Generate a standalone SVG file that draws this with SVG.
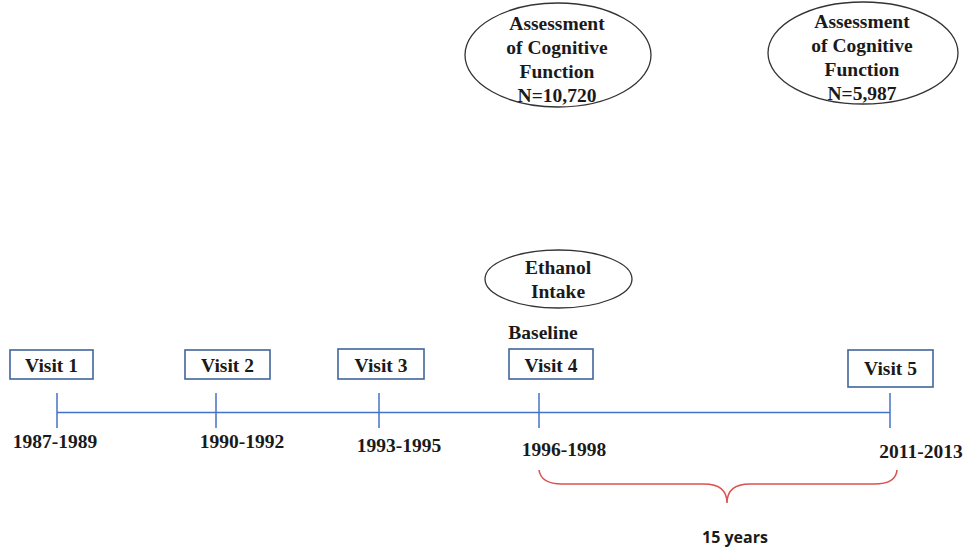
<svg xmlns="http://www.w3.org/2000/svg" width="969" height="552" viewBox="0 0 969 552">
<style>
.bg{fill:#ffffff}
.box{fill:#ffffff;stroke:#41659c;stroke-width:1.6}
.ell{fill:#ffffff;stroke:#333333;stroke-width:1.3}
.t{font-family:"Liberation Serif","Times New Roman",serif;font-weight:bold;font-size:19.5px;fill:#1a1a1a;text-anchor:middle}
.line{stroke:#4472c4;stroke-width:1.5;fill:none}
.brace{stroke:#d9534f;stroke-width:1.6;fill:none}
.s{font-family:"Open Sans","Liberation Sans",sans-serif;font-weight:bold;font-size:16px;fill:#1a1a1a;text-anchor:middle}
</style>
<rect class="bg" x="0" y="0" width="969" height="552"/>
<g id="connectors">
<line class="line" x1="57" y1="412.5" x2="890" y2="412.5"/>
<line class="line" x1="57" y1="393" x2="57" y2="428"/>
<line class="line" x1="216" y1="393" x2="216" y2="428"/>
<line class="line" x1="379" y1="393" x2="379" y2="428"/>
<line class="line" x1="539" y1="393" x2="539" y2="428"/>
<line class="line" x1="890" y1="393" x2="890" y2="428"/>
<path class="brace" d="M539,470 Q541,484 562,484 L704,484 Q727,484 727,503 M727,503 Q727,484 750,484 L874,484 Q896,484 897,470"/>
</g>
<g id="visit1"><rect class="box" x="10" y="350" width="83" height="29"/><text class="t" x="51.5" y="371.5">Visit 1</text></g>
<g id="visit2"><rect class="box" x="185" y="350" width="85" height="29"/><text class="t" x="227.5" y="371.5">Visit 2</text></g>
<g id="visit3"><rect class="box" x="338" y="349" width="86" height="30"/><text class="t" x="381" y="371.5">Visit 3</text></g>
<g id="visit4"><rect class="box" x="509" y="349" width="84" height="30"/><text class="t" x="551" y="371.5">Visit 4</text></g>
<g id="visit5"><rect class="box" x="848" y="350" width="85" height="37"/><text class="t" x="890.5" y="374.5">Visit 5</text></g>
<g id="years">
<text class="t" x="55" y="447.5">1987-1989</text>
<text class="t" x="242" y="447.5">1990-1992</text>
<text class="t" x="399" y="451.5">1993-1995</text>
<text class="t" x="564" y="455.5">1996-1998</text>
<text class="t" x="921" y="457.5">2011-2013</text>
</g>
<g id="baseline"><text class="t" x="543" y="338.5">Baseline</text></g>
<g id="ethanol"><ellipse class="ell" cx="558.5" cy="279" rx="73.5" ry="29"/><text class="t" x="558" y="273.5">Ethanol</text><text class="t" x="558" y="297.5">Intake</text></g>
<g id="cog1"><ellipse class="ell" cx="558" cy="55" rx="93" ry="52"/>
<text class="t" x="557" y="29.5">Assessment</text><text class="t" x="557" y="54">of Cognitive</text><text class="t" x="557" y="78">Function</text><text class="t" x="557" y="102">N=10,720</text></g>
<g id="cog2"><ellipse class="ell" cx="863" cy="53" rx="95" ry="51"/>
<text class="t" x="862" y="27.5">Assessment</text><text class="t" x="862" y="51.5">of Cognitive</text><text class="t" x="862" y="75.5">Function</text><text class="t" x="862" y="99.5">N=5,987</text></g>
<g id="span"><text class="s" x="735" y="543">15 years</text></g>
</svg>
